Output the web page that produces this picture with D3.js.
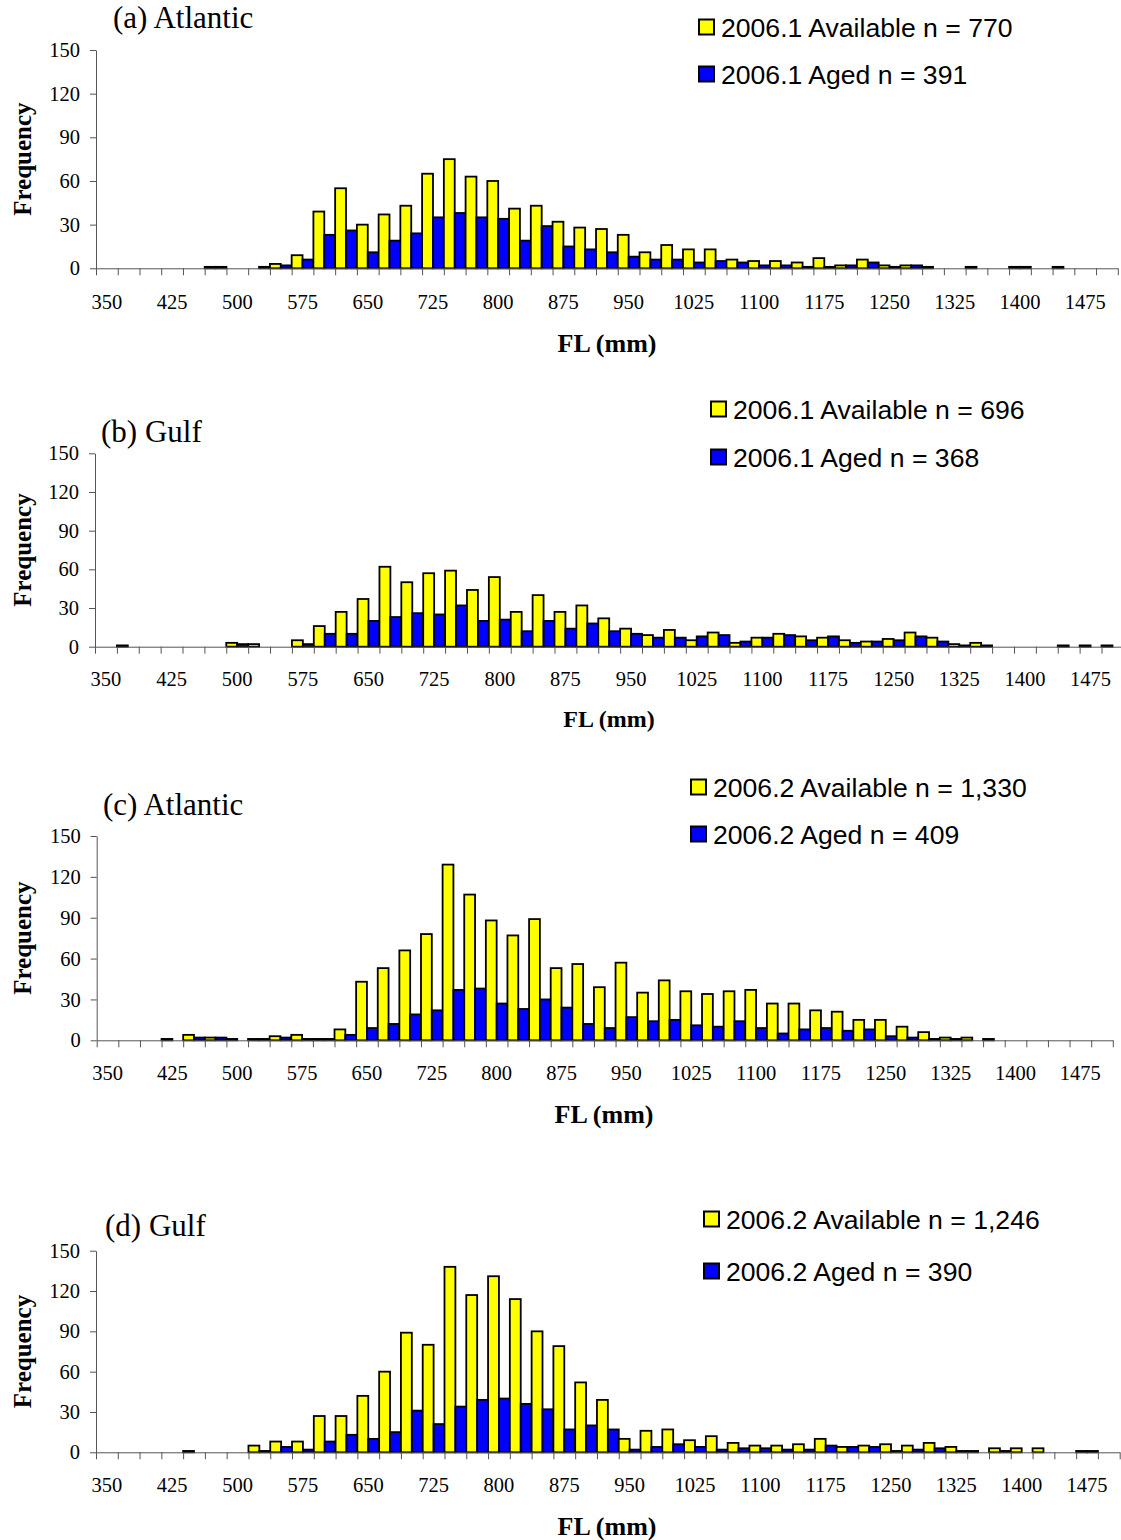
<!DOCTYPE html>
<html><head><meta charset="utf-8">
<script src="https://cdn.jsdelivr.net/npm/d3@7"></script>
<style>body{margin:0;background:#fff}svg{display:block}</style>
</head><body>
<svg id="chart" width="1121" height="1540"></svg>
<script>
// ---- DATA ----
const categories = [350,375,400,425,450,475,500,525,550,575,600,625,650,675,700,725,750,775,800,825,850,875,900,925,950,975,1000,1025,1050,1075,1100,1125,1150,1175,1200,1225,1250,1275,1300,1325,1350,1375,1400,1425,1450,1475,1500];
const tickLabels = [350,425,500,575,650,725,800,875,950,1025,1100,1175,1250,1325,1400,1475];
const yTicks = [0,30,60,90,120,150];

const availA = [0,0,0,0,0,1,0,0,3,9, 39,55,30,37,43,65,75,63,60,41, 43,32,28,27,23,11,16,13,13,6, 5,5,4,7,2,6,2,2,1,0, 1,0,1,0,1,0,0];
const agedA  = [0,0,0,0,0,1,0,1,2,6, 23,26,11,19,24,35,38,35,34,19, 29,15,13,11,8,6,6,4,5,4, 2,2,1,1,2,4,1,2,0,0, 0,0,1,0,0,0,0];
const availB = [0,1,0,0,0,0,3,2,0,5, 16,27,37,62,50,57,59,44,54,27, 40,27,32,22,14,9,13,5,11,3, 7,10,8,7,5,4,6,11,7,2, 3,0,0,0,1,1,1];
const agedB  = [0,0,0,0,0,0,2,0,0,2, 10,10,20,23,26,25,32,20,21,12, 20,14,18,12,10,7,7,8,9,4, 7,9,5,8,3,4,5,8,4,1, 1,0,0,0,0,0,0];
const availC = [0,0,0,1,4,2,1,1,3,4, 1,8,43,53,66,78,129,107,88,77, 89,53,56,39,57,35,44,36,34,36, 37,27,27,22,21,15,15,10,6,2, 2,1,0,0,0,0,0];
const agedC  = [0,0,0,0,2,2,0,1,2,1, 1,4,9,12,19,22,37,38,27,23, 30,24,12,9,17,14,15,11,10,14, 9,5,8,9,7,8,3,2,1,1, 0,0,0,0,0,0,0];
const availD = [0,0,0,0,1,0,0,5,8,8, 27,27,42,60,89,80,138,117,131,114, 90,79,52,39,10,16,17,9,12,7, 5,5,6,10,4,5,6,5,7,4, 1,3,3,3,0,1,0];
const agedD  = [0,0,0,0,0,0,0,1,4,2, 8,13,10,15,31,21,34,39,40,36, 32,17,20,17,2,4,6,4,2,3, 3,2,2,5,4,4,1,2,3,1, 0,1,0,0,0,1,0];

const titles = ["(a) Atlantic","(b) Gulf","(c) Atlantic","(d) Gulf"];
const legendAvail = ["2006.1 Available n = 770","2006.1 Available n = 696","2006.2 Available n = 1,330","2006.2 Available n = 1,246"];
const legendAged  = ["2006.1 Aged n = 391","2006.1 Aged n = 368","2006.2 Aged n = 409","2006.2 Aged n = 390"];
const seriesNames = ["Available","Aged"];
const seriesColors = ["#FFFF00","#0000FF"];
const xTitle = "FL (mm)";
const yTitle = "Frequency";

// ---- LAYOUT ----
const panels = [
  {avail: availA, aged: agedA, x0: 96,   x1: 1117.8, y0: 268.3, y1: 50,    titleX: 113, titleY: 28,   legX: 699, legY1: 27,  legY2: 74,   xLabY: 309,  xTitY: 352,  xTitX: 607, xTitSize: 26},
  {avail: availB, aged: agedB, x0: 95,   x1: 1123.4, y0: 646.7, y1: 453.3, titleX: 101, titleY: 442,  legX: 711, legY1: 409, legY2: 457,  xLabY: 686,  xTitY: 727,  xTitX: 609, xTitSize: 24},
  {avail: availC, aged: agedC, x0: 96.7, x1: 1112.8, y0: 1040.3,y1: 836,   titleX: 103, titleY: 815,  legX: 691, legY1: 787, legY2: 834,  xLabY: 1080, xTitY: 1123, xTitX: 604, xTitSize: 26},
  {avail: availD, aged: agedD, x0: 96,   x1: 1119.7, y0: 1452.3,y1: 1250.7,titleX: 105, titleY: 1236, legX: 704, legY1: 1219,legY2: 1271, xLabY: 1492, xTitY: 1535, xTitX: 607, xTitSize: 26}
];

const svg = d3.select("#chart");
const serif = "'Liberation Serif','Times New Roman',serif";
const sans = "'Liberation Sans',Arial,sans-serif";
const axisColor = "#555";

panels.forEach((p, pi) => {
  const g = svg.append("g");
  const x = d3.scaleBand().domain(categories).range([p.x0, p.x1]).paddingInner(0).paddingOuter(0);
  const xs = d3.scaleBand().domain(seriesNames).range([0, x.bandwidth()]).padding(0);
  const xIdx = d3.scaleLinear().domain([0, categories.length]).range([p.x0, p.x1]);
  const y = d3.scaleLinear().domain([0, 150]).range([p.y0, p.y1]);

  // bars
  const rows = categories.map((c, i) => ({c, vals: [p.avail[i], p.aged[i]]}));
  const cg = g.selectAll("g.cat").data(rows).join("g").attr("class","cat")
    .attr("transform", d => `translate(${x(d.c)},0)`);
  cg.selectAll("rect").data(d => d.vals.map((v, k) => ({v, k})).filter(e => e.v > 0)).join("rect")
    .attr("x", e => xs(seriesNames[e.k]))
    .attr("width", xs.bandwidth())
    .attr("y", e => y(e.v))
    .attr("height", e => y(0) - y(e.v))
    .attr("fill", e => seriesColors[e.k])
    .attr("stroke", "#000")
    .attr("stroke-width", 1.8);

  // y axis
  const ya = g.append("g").attr("transform", `translate(${p.x0},0)`)
    .call(d3.axisLeft(y).tickValues(yTicks).tickSize(6).tickPadding(10).tickSizeOuter(0));
  ya.select(".domain").attr("stroke", axisColor);
  ya.selectAll(".tick line").attr("stroke", axisColor);
  ya.selectAll(".tick text").attr("font-family", serif).attr("font-size", 20.5).attr("fill", "#000");

  // x axis (ticks at category boundaries)
  const xa = g.append("g").attr("transform", `translate(0,${p.y0})`)
    .call(d3.axisBottom(xIdx).tickValues(d3.range(categories.length + 1)).tickSize(7).tickFormat("").tickSizeOuter(0));
  xa.select(".domain").attr("stroke", axisColor);
  xa.selectAll(".tick line").attr("stroke", axisColor);
  g.append("g").selectAll("text").data(tickLabels).join("text")
    .attr("x", d => x(d) + x.bandwidth() / 2)
    .attr("y", p.xLabY)
    .attr("text-anchor", "middle")
    .attr("font-family", serif).attr("font-size", 20.5)
    .text(d => d);

  // axis titles
  g.append("text").attr("x", p.xTitX).attr("y", p.xTitY).attr("text-anchor","middle")
    .attr("font-family", serif).attr("font-weight","bold").attr("font-size", p.xTitSize).text(xTitle);
  const yc = (p.y0 + p.y1) / 2;
  g.append("text").attr("transform", `translate(31,${yc}) rotate(-90)`).attr("text-anchor","middle")
    .attr("font-family", serif).attr("font-weight","bold").attr("font-size", 25).text(yTitle);

  // title
  g.append("text").attr("x", p.titleX).attr("y", p.titleY)
    .attr("font-family", serif).attr("font-size", 31).text(titles[pi]);

  // legend
  const leg = [[legendAvail[pi], seriesColors[0], p.legY1],[legendAged[pi], seriesColors[1], p.legY2]];
  leg.forEach(([t, col, cy]) => {
    g.append("rect").attr("x", p.legX).attr("y", cy - 7.5).attr("width", 15).attr("height", 15)
      .attr("fill", col).attr("stroke", "#000").attr("stroke-width", 2);
    g.append("text").attr("x", p.legX + 22).attr("y", cy + 9.5)
      .attr("font-family", sans).attr("font-size", 26.6).text(t);
  });
});
</script>
</body></html>
